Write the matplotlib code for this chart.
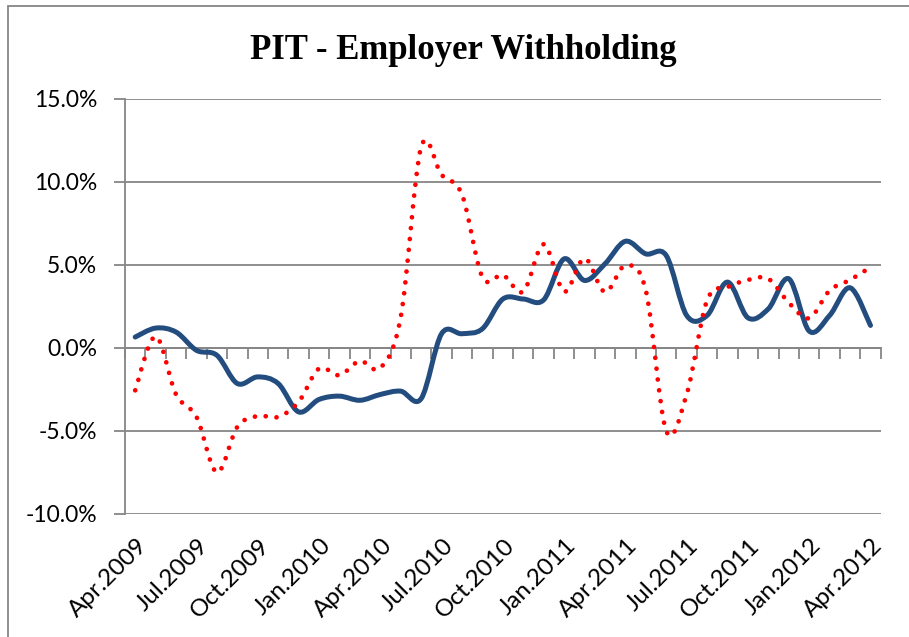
"""
PIT - Employer Withholding の再現チャート。
Excel 風のスムージング線（青：実線、赤：点線）を描く。
"""

import matplotlib
matplotlib.use("Agg")
import matplotlib.pyplot as plt
from matplotlib.path import Path
from matplotlib.patches import PathPatch, Rectangle
import numpy as np

# ── データ（2009年4月〜2012年4月、月次） ──────────────────
MONTHS = [
    "Apr.2009", "May.2009", "Jun.2009", "Jul.2009", "Aug.2009", "Sep.2009",
    "Oct.2009", "Nov.2009", "Dec.2009", "Jan.2010", "Feb.2010", "Mar.2010",
    "Apr.2010", "May.2010", "Jun.2010", "Jul.2010", "Aug.2010", "Sep.2010",
    "Oct.2010", "Nov.2010", "Dec.2010", "Jan.2011", "Feb.2011", "Mar.2011",
    "Apr.2011", "May.2011", "Jun.2011", "Jul.2011", "Aug.2011", "Sep.2011",
    "Oct.2011", "Nov.2011", "Dec.2011", "Jan.2012", "Feb.2012", "Mar.2012",
    "Apr.2012",
]

# 青（実線）
BLUE = [
    0.66, 1.2, 0.96, -0.14, -0.44, -2.14, -1.74, -2.14, -3.85, -3.1,
    -2.9, -3.15, -2.8, -2.6, -3.05, 0.86, 0.86, 1.16, 2.95, 2.95,
    2.9, 5.37, 4.07, 5.07, 6.43, 5.67, 5.57, 1.96, 1.96, 3.97,
    1.82, 2.36, 4.17, 1.02, 1.96, 3.63, 1.36,
]

# 赤（点線）
RED = [
    -2.55, 0.7, -2.8, -4.15, -7.5, -4.75, -4.1, -4.15, -3.25, -1.24,
    -1.64, -0.78, -1.2, 1.86, 12.1, 10.44, 9.24, 4.27, 4.4, 3.4,
    6.25, 3.4, 5.4, 3.37, 4.97, 3.47, -5.0, -2.79, 2.87, 3.67,
    4.1, 4.17, 2.73, 1.8, 3.47, 4.1, 4.87,
]

YTICKS = [-10, -5, 0, 5, 10, 15]
GRAY = "#868686"


def smooth_path(xs, ys):
    """Excel のスムージング線に近い Catmull-Rom ベジェパスを作る。"""
    pts = np.column_stack([xs, ys])
    n = len(pts)
    verts = [pts[0]]
    codes = [Path.MOVETO]
    for i in range(n - 1):
        p0 = pts[i - 1] if i > 0 else pts[i]
        p1 = pts[i]
        p2 = pts[i + 1]
        p3 = pts[i + 2] if i + 2 < n else pts[i + 1]
        c1 = p1 + (p2 - p0) / 6.0
        c2 = p2 - (p3 - p1) / 6.0
        verts += [c1, c2, p2]
        codes += [Path.CURVE4] * 3
    return Path(verts, codes)


fig = plt.figure(figsize=(9.09, 6.37), dpi=100)

# チャートエリアの枠（右・下は画像外）
fig.patches.append(Rectangle((8 / 909, -0.05), 1.2, 1 - 6 / 637 + 0.05,
                             transform=fig.transFigure, fill=False,
                             edgecolor=GRAY, linewidth=1.3))

ax = fig.add_axes([125 / 909, 1 - 514 / 637, 755.7 / 909, 415 / 637])

x = np.arange(len(MONTHS)) + 0.5

blue_patch = PathPatch(smooth_path(x, BLUE), fill=False, edgecolor="#234D7E",
                       linewidth=3.6, capstyle="round", joinstyle="round", zorder=3)
red_patch = PathPatch(smooth_path(x, RED), fill=False, edgecolor="#FF0000",
                      linewidth=3.4, linestyle=(0, (0.01, 2.3)),
                      capstyle="round", zorder=4)
ax.add_patch(blue_patch)
ax.add_patch(red_patch)

ax.set_xlim(0, len(MONTHS))
ax.set_ylim(-10, 15)

# Y軸
ax.set_yticks(YTICKS)
ax.set_yticklabels([f"{v:.1f}%" for v in YTICKS], fontsize=16.5, family="Lato")
ax.yaxis.grid(True, color=GRAY, linewidth=1.3)
ax.set_axisbelow(True)

# X軸（0% の位置に横軸、ラベルは下端）
for s in ["top", "right"]:
    ax.spines[s].set_visible(False)
ax.spines["left"].set_color(GRAY)
ax.spines["left"].set_linewidth(1.3)
ax.spines["bottom"].set_position(("data", 0))
ax.spines["bottom"].set_color(GRAY)
ax.spines["bottom"].set_linewidth(1.3)
ax.set_xticks(range(len(MONTHS) + 1))
ax.set_xticklabels([])
ax.tick_params(axis="both", direction="out", length=8, width=1.3, color=GRAY)
ax.tick_params(axis="y", pad=12, labelcolor="black")

for i in range(0, len(MONTHS), 3):
    ax.text(x[i] + 0.05, -0.05, MONTHS[i], transform=ax.get_xaxis_transform(),
            rotation=45, rotation_mode="anchor", ha="right", va="top",
            fontsize=17.5, family="Lato")

fig.text(463.5 / 909, 1 - 59 / 637, "PIT - Employer Withholding",
         ha="center", va="baseline", fontsize=25, fontweight="bold",
         family="Liberation Serif")

fig.savefig("out.png", dpi=100)
